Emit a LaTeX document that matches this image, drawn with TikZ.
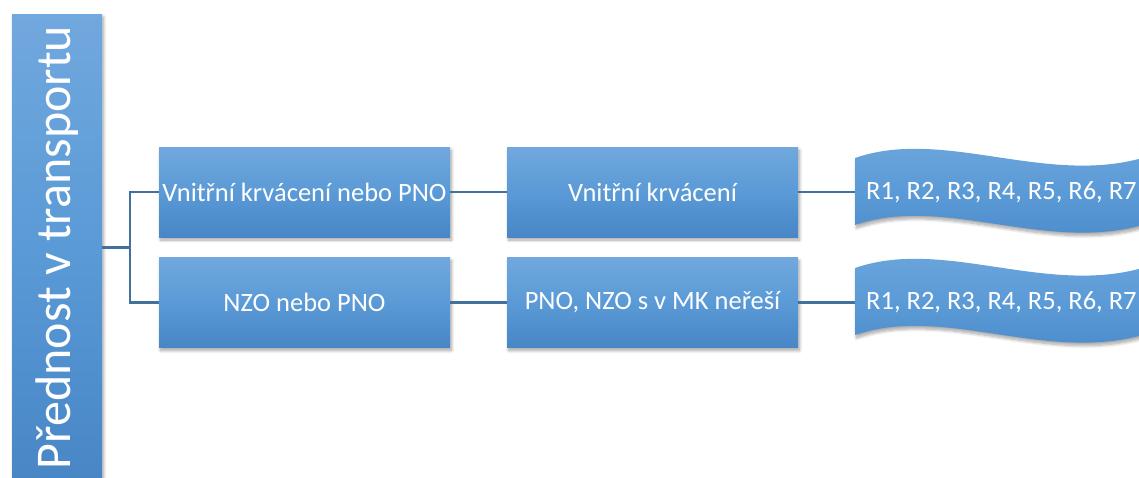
\documentclass[tikz,border=0pt]{standalone}
\usepackage{fontspec}
\setmainfont{Carlito}
\usetikzlibrary{shadows.blur}
\definecolor{boxtop}{HTML}{71A8DE}
\definecolor{boxmid}{HTML}{5A9AD6}
\definecolor{boxbot}{HTML}{4886C6}
\definecolor{linkcol}{HTML}{41719C}
\begin{document}
\begin{tikzpicture}[x=1pt,y=-1pt,
  shade/.style={blur shadow={shadow xshift=1.5pt, shadow yshift=-3pt,
      shadow blur radius=3pt, shadow blur steps=8, shadow opacity=35}},
  vgrad/.style={top color=boxtop, bottom color=boxbot, middle color=boxmid},
  stepbox/.style={shade, vgrad, draw=none, minimum width=291pt, minimum height=90pt,
      inner sep=0pt, text=white, font=\fontsize{26.5}{30}\selectfont},
  wavetext/.style={anchor=west, inner xsep=11pt, inner ysep=0pt, text=white,
      font=\fontsize{26.5}{30}\selectfont},
  link/.style={draw=linkcol, line width=2.5pt}]
\useasboundingbox (0,0) rectangle (1139,477);
\clip (0,0) rectangle (1139,477);

% vertical title bar
\node[shade, rotate=90, vgrad,
      minimum width=467pt, minimum height=90pt, inner sep=0pt, text=white,
      font=\fontsize{50}{56}\selectfont] (root) at (57,247.5) {Přednost v transportu};

% first and second columns
\node[stepbox] (b1) at (304.5,192) {Vnitřní krvácení nebo PNO};
\node[stepbox] (b2) at (304.5,302.5) {NZO nebo PNO};
\node[stepbox] (m1) at (652.5,192) {Vnitřní krvácení};
\node[stepbox] (m2) at (652.5,302.5) {PNO, NZO s v MK neřeší};

% wavy result banners
\path[shade, vgrad] (855,158) .. controls (950,125) and (1060,195) .. (1165,150)
   -- (1165,217) .. controls (1060,262) and (950,192) .. (855,225) -- cycle;
\path[shade, vgrad] (855,268) .. controls (950,235) and (1060,305) .. (1165,260)
   -- (1165,327) .. controls (1060,372) and (950,302) .. (855,335) -- cycle;
\node[wavetext] (w1) at (855,192) {R1, R2, R3, R4, R5, R6, R7};
\node[wavetext] (w2) at (855,302.5) {R1, R2, R3, R4, R5, R6, R7};

% connectors
\draw[link] (root.south) -- ++(28,0) coordinate (fork);
\draw[link] (fork) |- (b1.west);
\draw[link] (fork) |- (b2.west);
\draw[link] (b1.east) -- (m1.west);
\draw[link] (b2.east) -- (m2.west);
\draw[link] (m1.east) -- (w1.west);
\draw[link] (m2.east) -- (w2.west);
\end{tikzpicture}
\end{document}
